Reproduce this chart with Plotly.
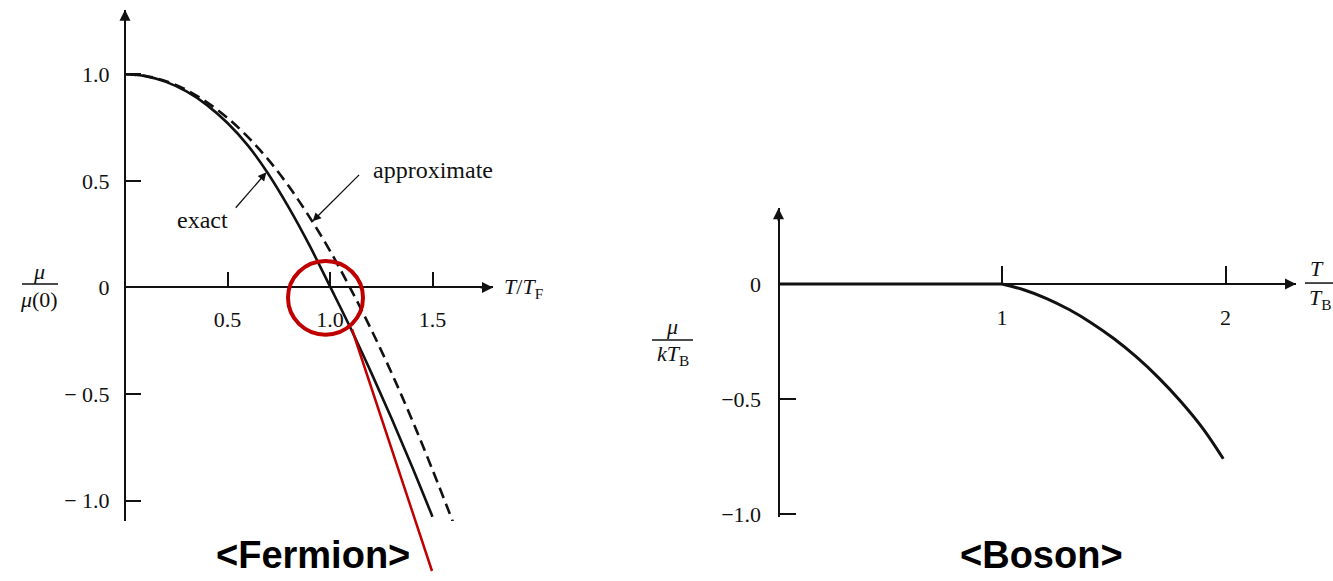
import plotly.graph_objects as go

# ---- data -------------------------------------------------------------
# Fermi gas: chemical potential mu/mu(0) versus T/T_F
fermi_T_exact = [0.0, 0.1, 0.2, 0.3, 0.4, 0.5, 0.6, 0.7, 0.8, 0.9, 1.0,
                 1.1, 1.2, 1.3, 1.4, 1.5]
fermi_mu_exact = [1.0, 0.991, 0.964, 0.919, 0.855, 0.771, 0.665, 0.531,
                  0.373, 0.197, 0.005, -0.19, -0.397, -0.613, -0.839,
                  -1.075]

fermi_T_approx = [0.0, 0.1, 0.2, 0.3, 0.4, 0.5, 0.6, 0.7, 0.8, 0.9, 1.0,
                  1.1, 1.2, 1.3, 1.4, 1.5, 1.6]
fermi_mu_approx = [1.0, 0.992, 0.967, 0.926, 0.868, 0.795, 0.705, 0.598,
                   0.473, 0.33, 0.172, -0.005, -0.195, -0.40, -0.62,
                   -0.855, -1.10]

# Bose gas: mu/kT_B versus T/T_B (mu = 0 below T_B, negative above)
bose_T_cond = [0.0, 1.0]
bose_mu_cond = [0.0, 0.0]
bose_T = [1.0, 1.1, 1.2, 1.3, 1.4, 1.5, 1.6, 1.7, 1.8, 1.9, 1.99]
bose_mu = [0.0, -0.026, -0.063, -0.111, -0.169, -0.237, -0.316, -0.407,
           -0.511, -0.630, -0.76]

fermi_xticks = [0.5, 1.0, 1.5]
fermi_xticktext = ["0.5", "1.0", "1.5"]
fermi_yticks = [1.0, 0.5, 0.0, -0.5, -1.0]
fermi_yticktext = ["1.0", "0.5", "0", "\u2212 0.5", "\u2212 1.0"]

bose_xticks = [1, 2]
bose_xticktext = ["1", "2"]
bose_yticks = [0.0, -0.5, -1.0]
bose_yticktext = ["0", "\u22120.5", "\u22121.0"]

# ---- geometry helpers (page is 1333 x 581 px) ------------------------
W, H = 1333, 581


def px(x):
    return x / W


def py(y):
    return 1 - y / H


SERIF = "Liberation Serif"
INK = "#111111"

# left panel pixel frame
L_X0, L_X1, L_ORIG_X, L_SX = 125, 493, 125, 205.0
L_Y0, L_Y1, L_ORIG_Y, L_SY = 10, 530, 292.5, 217.0
# right panel pixel frame
R_X0, R_X1, R_ORIG_X, R_SX = 778.5, 1296, 778.5, 223.5
R_Y0, R_Y1, R_ORIG_Y, R_SY = 212, 526, 289, 234.0

fig = go.Figure()

fig.add_trace(go.Scatter(
    x=fermi_T_exact, y=fermi_mu_exact, mode="lines", name="exact",
    line=dict(color=INK, width=2.6, shape="spline", smoothing=1.0),
    xaxis="x", yaxis="y", showlegend=False))
fig.add_trace(go.Scatter(
    x=fermi_T_approx, y=fermi_mu_approx, mode="lines", name="approximate",
    line=dict(color=INK, width=2.6, dash="11px,6px", shape="spline",
              smoothing=1.0),
    xaxis="x", yaxis="y", showlegend=False))
fig.add_trace(go.Scatter(
    x=bose_T_cond, y=bose_mu_cond, mode="lines", name="boson (T < T_B)",
    line=dict(color=INK, width=3),
    xaxis="x2", yaxis="y2", showlegend=False))
fig.add_trace(go.Scatter(
    x=bose_T, y=bose_mu, mode="lines", name="boson",
    line=dict(color=INK, width=3, shape="spline", smoothing=1.0),
    xaxis="x2", yaxis="y2", showlegend=False))

tickfont = dict(family=SERIF, size=22, color=INK)

common_axis = dict(showgrid=False, zeroline=False, showline=True,
                   linecolor=INK, linewidth=2, ticks="inside",
                   tickcolor=INK, tickwidth=1.5, tickfont=tickfont,
                   fixedrange=True)

fig.update_layout(
    width=W, height=H, autosize=False,
    margin=dict(l=0, r=0, t=0, b=0),
    paper_bgcolor="white", plot_bgcolor="white",
    xaxis=dict(common_axis,
               domain=[px(L_X0), px(L_X1)],
               range=[(L_X0 - L_ORIG_X) / L_SX, (L_X1 - L_ORIG_X) / L_SX],
               anchor="free", position=py(L_ORIG_Y),
               tickvals=fermi_xticks, ticktext=fermi_xticktext,
               ticklen=14, ticklabelstandoff=12),
    yaxis=dict(common_axis,
               domain=[py(L_Y1), py(L_Y0)],
               range=[(L_ORIG_Y - L_Y1) / L_SY, (L_ORIG_Y - L_Y0) / L_SY],
               anchor="free", position=px(L_ORIG_X),
               tickvals=fermi_yticks, ticktext=fermi_yticktext,
               ticklen=15, ticklabelstandoff=10),
    xaxis2=dict(common_axis,
                domain=[px(R_X0), px(R_X1)],
                range=[(R_X0 - R_ORIG_X) / R_SX, (R_X1 - R_ORIG_X) / R_SX],
                anchor="free", position=py(R_ORIG_Y),
                tickvals=bose_xticks, ticktext=bose_xticktext,
                ticklen=17, ticklabelstandoff=14),
    yaxis2=dict(common_axis,
                domain=[py(R_Y1), py(R_Y0)],
                range=[(R_ORIG_Y - R_Y1) / R_SY, (R_ORIG_Y - R_Y0) / R_SY],
                anchor="free", position=px(R_ORIG_X),
                tickvals=bose_yticks, ticktext=bose_yticktext,
                ticklen=16, ticklabelstandoff=12),
)

annotations = []

# arrowheads at the ends of the axes
for xr, yr, xv, yv, ax, ay in [
    ("x", "y", 0, (L_ORIG_Y - L_Y0) / L_SY, 0, 14),
    ("x", "y", (L_X1 - L_ORIG_X) / L_SX, 0, -14, 0),
    ("x2", "y2", 0, (R_ORIG_Y - R_Y0) / R_SY, 0, 14),
    ("x2", "y2", (R_X1 - R_ORIG_X) / R_SX, 0, -14, 0),
]:
    annotations.append(dict(xref=xr, yref=yr, x=xv, y=yv, ax=ax, ay=ay,
                            text="", showarrow=True, arrowhead=2,
                            arrowsize=1.1, arrowwidth=2, arrowcolor=INK))

# curve labels with pointer arrows
annotations += [
    dict(xref="paper", yref="paper", x=px(371), y=py(173), text="approximate",
         xanchor="left", yanchor="middle", showarrow=False,
         font=dict(family=SERIF, size=24, color=INK)),
    dict(xref="paper", yref="paper", x=px(175), y=py(224), text="exact",
         xanchor="left", yanchor="middle", showarrow=False,
         font=dict(family=SERIF, size=24, color=INK)),
    dict(xref="x", yref="y", x=0.915, y=0.31, ax=48, ay=-48, text="",
         showarrow=True, arrowhead=2, arrowsize=1.3, arrowwidth=1.3,
         arrowcolor=INK),
    dict(xref="x", yref="y", x=0.69, y=0.54, ax=-32, ay=37, text="",
         showarrow=True, arrowhead=2, arrowsize=1.3, arrowwidth=1.3,
         arrowcolor=INK),
]

# axis titles
lab = dict(family=SERIF, size=22, color=INK)
annotations += [
    dict(xref="paper", yref="paper", x=px(502), y=py(293),
         text="<i>T</i>/<i>T</i><sub>F</sub>", xanchor="left",
         yanchor="middle", showarrow=False, font=lab),
    dict(xref="paper", yref="paper", x=px(39), y=py(276), text="<i>μ</i>",
         xanchor="center", yanchor="middle", showarrow=False, font=lab),
    dict(xref="paper", yref="paper", x=px(39), y=py(305), text="<i>μ</i>(0)",
         xanchor="center", yanchor="middle", showarrow=False, font=lab),
    dict(xref="paper", yref="paper", x=px(672), y=py(332), text="<i>μ</i>",
         xanchor="center", yanchor="middle", showarrow=False, font=lab),
    dict(xref="paper", yref="paper", x=px(673), y=py(361),
         text="<i>kT</i><sub>B</sub>", xanchor="center", yanchor="middle",
         showarrow=False, font=lab),
    dict(xref="paper", yref="paper", x=px(1317), y=py(273), text="<i>T</i>",
         xanchor="center", yanchor="middle", showarrow=False, font=lab),
    dict(xref="paper", yref="paper", x=px(1320), y=py(304),
         text="<i>T</i><sub>B</sub>", xanchor="center", yanchor="middle",
         showarrow=False, font=lab),
]

# panel captions, sitting on the bottom edge of the page
cap = dict(family="Liberation Sans", size=38, color="black")
annotations += [
    dict(xref="paper", yref="paper", x=px(312.5), y=0, yshift=-6,
         text="<b>&lt;Fermion&gt;</b>", xanchor="center", yanchor="bottom",
         borderpad=0, showarrow=False, font=cap),
    dict(xref="paper", yref="paper", x=px(1041), y=0, yshift=-6,
         text="<b>&lt;Boson&gt;</b>", xanchor="center", yanchor="bottom",
         borderpad=0, showarrow=False, font=cap),
]

fig.update_layout(annotations=annotations)

# fraction bars and red highlight
RED = "#C00000"
shapes = [
    dict(type="line", xref="paper", yref="paper", x0=px(22), x1=px(58),
         y0=py(289), y1=py(289), line=dict(color=INK, width=1.5)),
    dict(type="line", xref="paper", yref="paper", x0=px(652), x1=px(693),
         y0=py(346), y1=py(346), line=dict(color=INK, width=1.5)),
    dict(type="line", xref="paper", yref="paper", x0=px(1305), x1=px(1333),
         y0=py(288), y1=py(288), line=dict(color=INK, width=1.5)),
    dict(type="circle", xref="paper", yref="paper",
         x0=px(325.5 - 37.5), x1=px(325.5 + 37.5),
         y0=py(303 + 37.5), y1=py(303 - 37.5),
         line=dict(color=RED, width=4)),
    dict(type="line", xref="paper", yref="paper", x0=px(352), y0=py(335),
         x1=px(432), y1=py(581), line=dict(color=RED, width=2.5)),
]
fig.update_layout(shapes=shapes)

fig.write_html("out.html")
